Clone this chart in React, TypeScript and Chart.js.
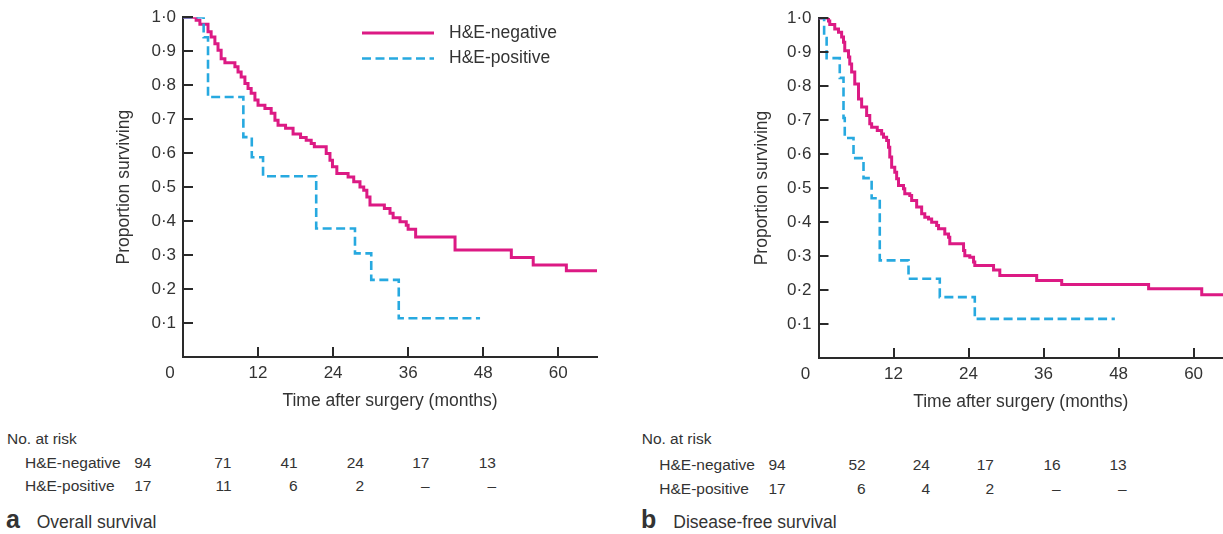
import React, { useEffect, useRef } from 'react';
import { Chart, registerables } from 'chart.js';

Chart.register(...registerables);

const FONT = '"Liberation Sans", Arial, Helvetica, sans-serif';
const TEXT_COLOR = '#333333';
const AXIS_COLOR = '#2a2a2a';
const MAGENTA = '#dc1a84';
const CYAN = '#27a9e0';

// ---- tick labels ----
const xTickValues = [0, 12, 24, 36, 48, 60];
const yTickValues = [0.1, 0.2, 0.3, 0.4, 0.5, 0.6, 0.7, 0.8, 0.9, 1.0];
const seriesLabels = ['H&E-negative', 'H&E-positive'];
const xTitle = 'Time after surgery (months)';
const yTitle = 'Proportion surviving';

// ---- (a) Overall survival ----
const osNegMonths = [0, 2.1, 2.7, 4.0, 4.5, 5.1, 5.6, 6.1, 6.7, 8.3, 8.8, 9.3, 9.9, 10.4, 10.9, 11.5, 12.0, 13.1, 14.1, 14.7, 15.2, 16.4, 17.6, 18.8, 19.7, 20.5, 21.0, 22.9, 23.5, 23.9, 24.6, 26.4, 27.3, 28.3, 28.9, 29.4, 29.9, 32.2, 33.1, 33.6, 34.7, 35.7, 36.0, 37.2, 43.5, 52.5, 56.0, 61.3, 66.2];
const osNegSurv = [1.0, 0.991, 0.979, 0.957, 0.942, 0.922, 0.903, 0.878, 0.866, 0.854, 0.839, 0.824, 0.805, 0.79, 0.776, 0.756, 0.741, 0.731, 0.717, 0.697, 0.682, 0.673, 0.656, 0.646, 0.638, 0.628, 0.619, 0.599, 0.579, 0.56, 0.54, 0.53, 0.516, 0.5, 0.491, 0.471, 0.447, 0.437, 0.423, 0.41, 0.398, 0.388, 0.376, 0.353, 0.315, 0.293, 0.271, 0.254, 0.254];
const osPosMonths = [0, 3.3, 4.0, 9.65, 11.0, 12.8, 21.3, 27.5, 30.1, 34.5, 47.5];
const osPosSurv = [1.0, 0.941, 0.765, 0.647, 0.588, 0.532, 0.378, 0.305, 0.227, 0.114, 0.114];
const osRiskNeg = ['94', '71', '41', '24', '17', '13'];
const osRiskPos = ['17', '11', '6', '2', '–', '–'];

// ---- (b) Disease-free survival ----
const dfsNegMonths = [0, 1.6, 1.8, 2.6, 3.2, 3.7, 4.0, 4.2, 4.8, 5.0, 5.3, 5.8, 6.4, 6.9, 7.7, 8.2, 8.5, 9.4, 10.1, 10.4, 10.9, 11.2, 11.4, 11.7, 12.2, 12.5, 12.8, 13.6, 13.8, 14.6, 14.9, 15.7, 16.5, 17.0, 17.6, 18.1, 18.9, 19.2, 20.2, 20.8, 21.0, 23.2, 23.4, 24.2, 24.8, 25.0, 28.0, 29.0, 34.9, 38.9, 52.8, 61.3, 66.0];
const dfsNegSurv = [1.0, 0.991, 0.981, 0.968, 0.958, 0.944, 0.929, 0.904, 0.885, 0.865, 0.841, 0.806, 0.762, 0.738, 0.713, 0.689, 0.679, 0.669, 0.659, 0.649, 0.64, 0.62, 0.591, 0.561, 0.546, 0.527, 0.507, 0.498, 0.483, 0.478, 0.463, 0.444, 0.424, 0.414, 0.409, 0.399, 0.39, 0.38, 0.365, 0.355, 0.336, 0.316, 0.301, 0.296, 0.282, 0.272, 0.259, 0.243, 0.228, 0.216, 0.204, 0.186, 0.186];
const dfsPosMonths = [0, 0.9, 1.3, 3.4, 4.0, 4.2, 5.6, 7.2, 8.5, 9.8, 14.4, 19.4, 25.0, 47.4];
const dfsPosSurv = [1.0, 0.941, 0.882, 0.824, 0.706, 0.647, 0.588, 0.529, 0.47, 0.287, 0.233, 0.179, 0.115, 0.115];
const dfsRiskNeg = ['94', '52', '24', '17', '16', '13'];
const dfsRiskPos = ['17', '6', '4', '2', '–', '–'];

const toPoints = (xs: number[], ys: number[]) => xs.map((x, i) => ({ x, y: ys[i] }));

const axisDecor = {
  id: 'axisDecor',
  afterDraw(chart: any, _args: any, opts: any) {
    const { ctx, chartArea, scales } = chart;
    const xs = scales.x;
    const ys = scales.y;
    ctx.save();
    ctx.strokeStyle = AXIS_COLOR;
    ctx.lineWidth = 2;
    ctx.setLineDash([]);
    ctx.beginPath();
    for (const v of yTickValues) {
      const py = Math.round(ys.getPixelForValue(v));
      ctx.moveTo(chartArea.left, py);
      ctx.lineTo(chartArea.left + 10, py);
    }
    for (const v of xTickValues) {
      if (v === 0) continue;
      const px = Math.round(xs.getPixelForValue(v));
      ctx.moveTo(px, chartArea.bottom);
      ctx.lineTo(px, chartArea.bottom - 10);
    }
    ctx.stroke();
    // origin label, set to the lower left of the corner
    ctx.fillStyle = TEXT_COLOR;
    ctx.font = `17px ${FONT}`;
    ctx.textAlign = 'center';
    ctx.textBaseline = 'middle';
    ctx.fillText(String(xTickValues[0]), xs.getPixelForValue(0) - 13, chartArea.bottom + 16);
    if (opts && opts.showLegend) {
      chart.data.datasets.forEach((ds: any, i: number) => {
        const y = chartArea.top + 15.7 + i * 25.6;
        const x0 = chartArea.left + 179;
        ctx.beginPath();
        ctx.strokeStyle = ds.borderColor;
        ctx.lineWidth = ds.borderWidth;
        ctx.setLineDash(ds.borderDash || []);
        ctx.moveTo(x0, y);
        ctx.lineTo(x0 + 72, y);
        ctx.stroke();
        ctx.setLineDash([]);
        ctx.fillStyle = TEXT_COLOR;
        ctx.font = `17.5px ${FONT}`;
        ctx.textAlign = 'left';
        ctx.textBaseline = 'middle';
        ctx.fillText(ds.label, x0 + 87, y);
      });
    }
    ctx.restore();
  },
};

type PanelProps = {
  left: number;
  width: number;
  height: number;
  padding: { left: number; right: number; top: number; bottom: number };
  yAxisWidth: number;
  xAxisHeight: number;
  xMax: number;
  negMonths: number[];
  negSurv: number[];
  posMonths: number[];
  posSurv: number[];
  showLegend: boolean;
};

function SurvivalPanel(p: PanelProps) {
  const ref = useRef<HTMLCanvasElement>(null);
  useEffect(() => {
    const chart = new Chart(ref.current as HTMLCanvasElement, {
      type: 'line',
      data: {
        datasets: [
          {
            label: seriesLabels[0],
            data: toPoints(p.negMonths, p.negSurv),
            borderColor: MAGENTA,
            backgroundColor: MAGENTA,
            borderWidth: 3,
            stepped: 'before',
            pointRadius: 0,
            fill: false,
            order: 1,
          },
          {
            label: seriesLabels[1],
            data: toPoints(p.posMonths, p.posSurv),
            borderColor: CYAN,
            backgroundColor: CYAN,
            borderWidth: 2.6,
            borderDash: [9, 4.5],
            stepped: 'before',
            pointRadius: 0,
            fill: false,
            order: 0,
          },
        ],
      } as any,
      options: {
        animation: false,
        responsive: false,
        devicePixelRatio: 1,
        layout: { padding: p.padding },
        events: [],
        plugins: {
          legend: { display: false },
          tooltip: { enabled: false },
          axisDecor: { showLegend: p.showLegend },
        } as any,
        scales: {
          x: {
            type: 'linear',
            min: 0,
            max: p.xMax,
            afterBuildTicks: (s: any) => {
              s.ticks = xTickValues.map((v) => ({ value: v }));
            },
            afterFit: (s: any) => {
              s.height = p.xAxisHeight;
            },
            grid: { display: true, drawOnChartArea: false, drawTicks: false },
            border: { display: true, color: AXIS_COLOR, width: 2 },
            ticks: {
              padding: 6,
              autoSkip: false,
              maxRotation: 0,
              color: TEXT_COLOR,
              font: { size: 17, family: FONT },
              callback: (v: any) => (Number(v) === 0 ? '' : String(v)),
            },
            title: {
              display: true,
              text: xTitle,
              color: TEXT_COLOR,
              font: { size: 17.5, family: FONT },
              padding: 0,
            },
          },
          y: {
            type: 'linear',
            min: 0,
            max: 1,
            afterBuildTicks: (s: any) => {
              s.ticks = yTickValues.map((v) => ({ value: v }));
            },
            afterFit: (s: any) => {
              s.width = p.yAxisWidth;
            },
            grid: { display: true, drawOnChartArea: false, drawTicks: false },
            border: { display: true, color: AXIS_COLOR, width: 2 },
            ticks: {
              padding: 7,
              autoSkip: false,
              color: TEXT_COLOR,
              font: { size: 17, family: FONT },
              callback: (v: any) => Number(v).toFixed(1).replace('.', '\u00B7'),
            },
            title: {
              display: true,
              text: yTitle,
              color: TEXT_COLOR,
              font: { size: 17.5, family: FONT },
              padding: 0,
            },
          },
        },
      } as any,
      plugins: [axisDecor as any],
    });
    return () => chart.destroy();
  }, []);
  return (
    <canvas
      ref={ref}
      width={p.width}
      height={p.height}
      style={{ position: 'absolute', left: p.left, top: 0, width: p.width, height: p.height }}
    />
  );
}

function Txt(props: {
  x: number;
  base: number;
  size: number;
  text: string;
  right?: boolean;
  bold?: boolean;
}) {
  const { x, base, size, text, right, bold } = props;
  return (
    <div
      style={{
        position: 'absolute',
        left: x,
        top: base - 0.8465 * size,
        fontSize: size,
        lineHeight: `${size}px`,
        fontFamily: FONT,
        fontWeight: bold ? 700 : 400,
        color: TEXT_COLOR,
        whiteSpace: 'nowrap',
        transform: right ? 'translateX(-100%)' : undefined,
      }}
    >
      {text}
    </div>
  );
}

function RiskTable(props: {
  x0: number;
  labelX: number;
  bases: number[];
  numRights: number[];
  neg: string[];
  pos: string[];
}) {
  const { x0, labelX, bases, numRights, neg, pos } = props;
  return (
    <>
      <Txt x={x0} base={bases[0]} size={15.5} text="No. at risk" />
      <Txt x={labelX} base={bases[1]} size={15.5} text={seriesLabels[0]} />
      <Txt x={labelX} base={bases[2]} size={15.5} text={seriesLabels[1]} />
      {neg.map((t, i) => (
        <Txt key={'n' + i} x={numRights[i]} base={bases[1]} size={15.5} text={t} right />
      ))}
      {pos.map((t, i) => (
        <Txt key={'p' + i} x={numRights[i]} base={bases[2]} size={15.5} text={t} right />
      ))}
    </>
  );
}

export default function App() {
  return (
    <div
      style={{
        position: 'absolute',
        left: 0,
        top: 0,
        width: 1223,
        height: 534,
        overflow: 'hidden',
        background: '#ffffff',
      }}
    >
      <SurvivalPanel
        left={0}
        width={611}
        height={412}
        padding={{ left: 114, right: 14, top: 17, bottom: 0 }}
        yAxisWidth={69}
        xAxisHeight={55}
        xMax={66.2}
        negMonths={osNegMonths}
        negSurv={osNegSurv}
        posMonths={osPosMonths}
        posSurv={osPosSurv}
        showLegend={true}
      />
      <SurvivalPanel
        left={611}
        width={612}
        height={413}
        padding={{ left: 140.5, right: 0, top: 18, bottom: 0 }}
        yAxisWidth={67}
        xAxisHeight={55}
        xMax={64.7}
        negMonths={dfsNegMonths}
        negSurv={dfsNegSurv}
        posMonths={dfsPosMonths}
        posSurv={dfsPosSurv}
        showLegend={false}
      />
      <RiskTable
        x0={7}
        labelX={25}
        bases={[444, 468, 491.4]}
        numRights={[151.5, 231.5, 297.7, 364, 429.5, 496]}
        neg={osRiskNeg}
        pos={osRiskPos}
      />
      <RiskTable
        x0={641.7}
        labelX={659.3}
        bases={[444.5, 470.5, 493.8]}
        numRights={[785.7, 865.7, 930, 994, 1060.7, 1126.7]}
        neg={dfsRiskNeg}
        pos={dfsRiskPos}
      />
      <Txt x={6} base={528.5} size={25} text="a" bold />
      <Txt x={36.7} base={528.8} size={17.5} text="Overall survival" />
      <Txt x={641} base={528.5} size={25} text="b" bold />
      <Txt x={673.3} base={528.8} size={17.5} text="Disease-free survival" />
    </div>
  );
}
